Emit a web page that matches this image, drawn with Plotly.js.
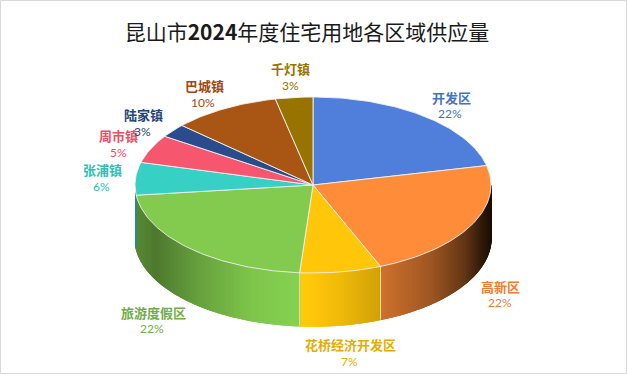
<!DOCTYPE html>
<html><head><meta charset="utf-8">
<script src="https://cdn.plot.ly/plotly-3.0.1.min.js"></script>
<style>html,body{margin:0;padding:0;background:#fff;overflow:hidden}</style>
</head><body><div id="chart" style="width:627px;height:375px"></div>
<script>
const categories = ['开发区','高新区','花桥经济开发区','旅游度假区','张浦镇','周市镇','陆家镇','巴城镇','千灯镇'];
const shares = [21.5,22.4,7.4,22.0,6.0,5.2,2.5,9.8,3.4];
const sliceColors = ['#4f7fdb','#ff8c38','#ffc60a','#82cb4e','#37d0c4','#f6576e','#2b4c8c','#a95614','#997300'];
const labelColors = ['#4472c4','#ed7d31','#e6ac00','#70ad47','#2fc0b4','#ee4d66','#264478','#9e480e','#997300'];
const nameCenters = [[451,97],[500,286],[350,344],[153,312],[102,169],[118,135],[143,114],[204,85],[290,68]];
const pctCenters = [[450,113],[500,302],[349,361],[152,328],[101,186],[118,152],[142,131],[203,102],[290,85]];
const pie = {cx:313, cy:185, rx:178, ry:88, depth:53, wallStart:90, wallEnd:264};
const shadeStops = [[135,.68],[155,.6],[200,.8],[250,.97],[298,1.03],[340,.94],[378,.82],[430,.62],[465,.38],[480,.2],[491,.1]];

const rad = d => d*Math.PI/180;
const px = a => pie.cx + pie.rx*Math.sin(rad(a));
const py = a => pie.cy - pie.ry*Math.cos(rad(a));
function shadeAt(x){
  if (x<=shadeStops[0][0]) return shadeStops[0][1];
  for (let i=1;i<shadeStops.length;i++){
    const [x1,m1]=shadeStops[i];
    if (x<=x1){ const [x0,m0]=shadeStops[i-1]; return m0+(m1-m0)*(x-x0)/(x1-x0); }
  }
  return shadeStops[shadeStops.length-1][1];
}
function shaded(hex,m){
  const c=[1,3,5].map(i=>parseInt(hex.substr(i,2),16)).map(v=>Math.min(255,Math.round(v*m)));
  return `rgb(${c.join(',')})`;
}
const total = shares.reduce((a,b)=>a+b,0);
const traces=[], annotations=[];
let cum=0;
const spans = shares.map(v=>{const s=cum/total*360; cum+=v; return [s,cum/total*360];});

// Side wall: overlapping shaded strips, painted left-to-right so no seams show
spans.forEach(([s,e],i)=>{
  const a0=Math.max(s,pie.wallStart), a1=Math.min(e,pie.wallEnd+1);
  if (a1<=a0 || a0>=pie.wallEnd) return;
  const n=Math.ceil((a1-a0)/0.8);
  for(let k=0;k<n;k++){
    const p=a0+(a1-a0)*k/n, q=a0+(a1-a0)*(k+1)/n, r=Math.min(a1,q+0.8);
    const col=shaded(sliceColors[i],shadeAt((px(p)+px(q))/2));
    traces.push({type:'scatter',mode:'lines',fill:'toself',fillcolor:col,
      line:{color:col,width:1.4},hoverinfo:'skip',showlegend:false,
      x:[px(p),px(r),px(r),px(p),px(p)],
      y:[py(p),py(r),py(r)+pie.depth,py(p)+pie.depth,py(p)]});
  }
});
// Light seam where slices meet on the wall
spans.forEach(([s,e])=>{
  if (e<=pie.wallStart || e>=pie.wallEnd-1) return;
  traces.push({type:'scatter',mode:'lines',line:{color:'rgba(245,240,200,0.75)',width:1},
    hoverinfo:'skip',showlegend:false,x:[px(e),px(e)],y:[py(e),py(e)+pie.depth]});
});

// Top face
spans.forEach(([s,e],i)=>{
  const xs=[pie.cx], ys=[pie.cy];
  const n=Math.max(4,Math.ceil((e-s)/1));
  for(let k=0;k<=n;k++){const a=s+(e-s)*k/n; xs.push(px(a)); ys.push(py(a));}
  xs.push(pie.cx); ys.push(pie.cy);
  traces.push({type:'scatter',mode:'lines',fill:'toself',fillcolor:sliceColors[i],
    line:{color:'rgba(240,240,240,0.9)',width:1},hoverinfo:'skip',showlegend:false,
    name:categories[i],x:xs,y:ys});
  annotations.push({x:nameCenters[i][0],y:nameCenters[i][1],xref:'x',yref:'y',showarrow:false,
    text:`<b>${categories[i]}</b>`,font:{family:'"Noto Sans CJK SC"',size:13,color:labelColors[i]}});
  annotations.push({x:pctCenters[i][0],y:pctCenters[i][1],xref:'x',yref:'y',showarrow:false,
    text:`${Math.round(shares[i])}%`,font:{family:'Lato,"Open Sans"',size:12,color:labelColors[i]}});
});

Plotly.newPlot('chart',traces,{
  width:627,height:375,margin:{l:0,r:0,t:0,b:0},
  paper_bgcolor:'#fff',plot_bgcolor:'#fff',showlegend:false,
  title:{text:'昆山市<b>2024</b>年度住宅用地各区域供应量',x:307/627,xanchor:'center',y:1-33/375,yanchor:'middle',
    font:{family:'"Noto Sans CJK SC"',size:21,color:'#1a1a1a'}},
  xaxis:{range:[0,627],visible:false,fixedrange:true},
  yaxis:{range:[375,0],visible:false,fixedrange:true},
  annotations,
  shapes:[{type:'rect',xref:'x',yref:'y',x0:0.5,x1:626.5,y0:0.5,y1:373.5,line:{color:'#d9d9d9',width:1},fillcolor:'rgba(0,0,0,0)',layer:'below'}]
},{displayModeBar:false,staticPlot:true});
</script></body></html>
